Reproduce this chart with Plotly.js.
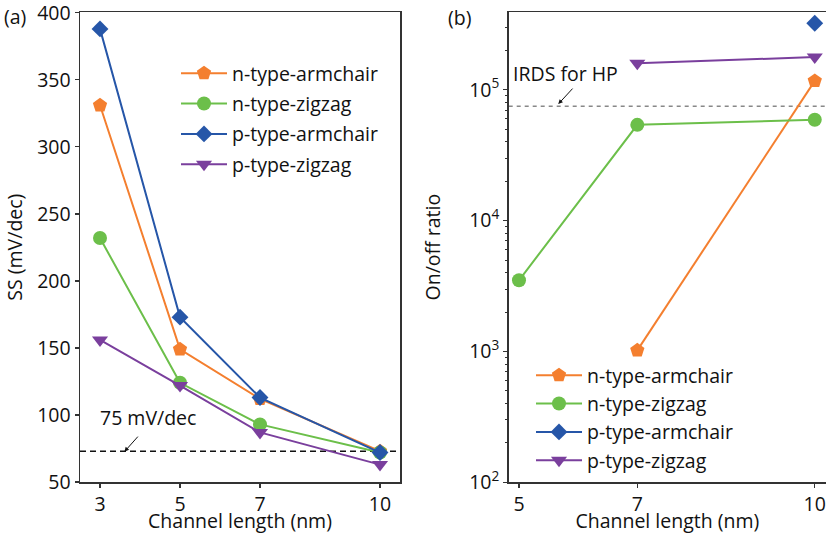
<!DOCTYPE html>
<html>
<head>
<meta charset="utf-8">
<script src="https://cdn.plot.ly/plotly-3.0.1.min.js"></script>
<style>html,body{margin:0;padding:0;background:#fff}#chart{width:826px;height:534px}</style>
</head>
<body>
<div id="chart"></div>
<script>
// ---- data ----
const seriesNames = ['n-type-armchair', 'n-type-zigzag', 'p-type-armchair', 'p-type-zigzag'];
const channelA = [3, 5, 7, 10];
const ssNArm = [331, 149, 112, 73];
const ssNZig = [232, 124, 93, 72];
const ssPArm = [388, 173, 113, 72];
const ssPZig = [156, 122, 87, 63];
const channelB = [5, 7, 10];
const onoffNArm = [null, 1020, 117000];
const onoffNZig = [3500, 54000, 59000];
const onoffPArm = [null, null, 323000];
const onoffPZig = [null, 160000, 178000];
const ssLimit = 73;          // "75 mV/dec" reference line as drawn
const irdsHP = 75000;        // IRDS for HP reference line
const xTicksA = [3, 5, 7, 10];
const xTicksB = [5, 7, 10];
const yTicksA = [50, 100, 150, 200, 250, 300, 350, 400];
const yTicksB = [100, 1000, 10000, 100000];
const yTickTextB = ['10<sup>2</sup>', '10<sup>3</sup>', '10<sup>4</sup>', '10<sup>5</sup>'];
const yMinorB = [200, 300, 400, 500, 600, 700, 800, 900,
                 2000, 3000, 4000, 5000, 6000, 7000, 8000, 9000,
                 20000, 30000, 40000, 50000, 60000, 70000, 80000, 90000,
                 200000, 300000];

// ---- style ----
const colors = ['#F47F2F', '#6CBF4A', '#2656A8', '#7A3F9D'];
const symbols = ['pentagon', 'circle', 'diamond', 'triangle-down'];
const msizes = [15, 14, 13, 14];
const FONT = '"Open Sans", "Noto Sans", sans-serif';
const FS = 19.5;
const AX = '#333';

const valsA = [ssNArm, ssNZig, ssPArm, ssPZig];
const valsB = [onoffNArm, onoffNZig, onoffPArm, onoffPZig];

const traces = [];
valsA.forEach((v, i) => traces.push({
  x: channelA, y: v, type: 'scatter', mode: 'lines+markers', name: seriesNames[i],
  xaxis: 'x', yaxis: 'y', legend: 'legend', legendgroup: 'a' + i,
  line: {color: colors[i], width: 2},
  marker: {symbol: symbols[i], size: msizes[i], color: colors[i]}
}));
valsB.forEach((v, i) => traces.push({
  x: channelB, y: v, type: 'scatter', mode: 'lines+markers', name: seriesNames[i],
  xaxis: 'x2', yaxis: 'y2', legend: 'legend2', legendgroup: 'b' + i,
  connectgaps: false,
  line: {color: colors[i], width: 2},
  marker: {symbol: symbols[i], size: msizes[i], color: colors[i]}
}));

const axBase = {
  showline: true, linecolor: AX, linewidth: 1.5, ticks: 'outside', ticklen: 4,
  tickcolor: AX, tickwidth: 1.2, showgrid: false, zeroline: false,
  ticklabeloverflow: 'allow',
  tickfont: {family: FONT, size: FS, color: '#111'},
};

const yDom = [(534 - 482.3) / 534, (534 - 12) / 534];

const layout = {
  width: 826, height: 534,
  margin: {l: 0, r: 0, t: 0, b: 0},
  paper_bgcolor: '#fff', plot_bgcolor: '#fff',
  font: {family: FONT, size: FS, color: '#111'},
  xaxis: Object.assign({}, axBase, {
    domain: [80 / 826, 400 / 826], range: [2.5, 10.5], mirror: true,
    tickmode: 'array', tickvals: xTicksA, anchor: 'y',
    title: {text: 'Channel length (nm)', font: {family: FONT, size: FS}, standoff: 0}
  }),
  yaxis: Object.assign({}, axBase, {
    domain: yDom, range: [49.8, 400.6], mirror: true, anchor: 'x',
    tickmode: 'array', tickvals: yTicksA,
    title: {text: 'SS (mV/dec)', font: {family: FONT, size: FS}, standoff: 9}
  }),
  xaxis2: Object.assign({}, axBase, {
    domain: [508.7 / 826, 1], range: [4.826, 10.19], mirror: true, anchor: 'y2',
    tickmode: 'array', tickvals: xTicksB,
    title: {text: 'Channel length (nm)', font: {family: FONT, size: FS}, standoff: 0}
  }),
  yaxis2: Object.assign({}, axBase, {
    domain: yDom, type: 'log', range: [2, 5.595], mirror: false, anchor: 'x2',
    tickmode: 'array', tickvals: yTicksB, ticktext: yTickTextB,
    minor: {tickmode: 'array', tickvals: yMinorB, ticks: 'outside', ticklen: 2.5, tickcolor: AX, tickwidth: 1},
    title: {text: 'On/off ratio', font: {family: FONT, size: FS}, standoff: 23}
  }),
  showlegend: true,
  legend: {
    x: 176 / 826, y: 1 - 54 / 534, xanchor: 'left', yanchor: 'top',
    bgcolor: 'rgba(0,0,0,0)', font: {family: FONT, size: FS, color: '#111'},
    traceorder: 'grouped', tracegroupgap: 2, itemwidth: 46
  },
  legend2: {
    x: 531 / 826, y: 1 - 356 / 534, xanchor: 'left', yanchor: 'top',
    bgcolor: 'rgba(0,0,0,0)', font: {family: FONT, size: FS, color: '#111'},
    traceorder: 'grouped', tracegroupgap: 0, itemwidth: 46
  },
  shapes: [
    {type: 'line', xref: 'x domain', yref: 'y', x0: 0, x1: 1, y0: ssLimit, y1: ssLimit,
     line: {color: '#111', width: 1.5, dash: '6px,4px'}, layer: 'below'},
    {type: 'line', xref: 'x2 domain', yref: 'y2', x0: 0, x1: 1, y0: irdsHP, y1: irdsHP,
     line: {color: '#888', width: 1.5, dash: '4px,4px'}, layer: 'below'}
  ],
  annotations: [
    {xref: 'paper', yref: 'paper', x: 2 / 826, y: 1 - 17 / 534, xanchor: 'left', yanchor: 'middle',
     text: '(a)', showarrow: false, font: {family: FONT, size: FS, color: '#111'}},
    {xref: 'paper', yref: 'paper', x: 446 / 826, y: 1 - 18 / 534, xanchor: 'left', yanchor: 'middle',
     text: '(b)', showarrow: false, font: {family: FONT, size: FS, color: '#111'}},
    {xref: 'x', yref: 'y', x: 4.2, y: 98.5, text: '75 mV/dec', showarrow: false,
     font: {family: FONT, size: FS, color: '#111'}},
    {xref: 'x', yref: 'y', x: 3.61, y: 72.6, axref: 'x', ayref: 'y', ax: 3.98, ay: 85,
     text: '', showarrow: true, arrowhead: 2, arrowsize: 0.9, arrowwidth: 1, arrowcolor: '#111', standoff: 0},
    {xref: 'x2', yref: 'y2', x: 5.786, y: 5.122, text: 'IRDS for HP', showarrow: false,
     font: {family: FONT, size: FS, color: '#111'}},
    {xref: 'x2', yref: 'y2', x: 5.664, y: 4.891, axref: 'x2', ayref: 'y2', ax: 5.929, ay: 5.021,
     text: '', showarrow: true, arrowhead: 2, arrowsize: 0.9, arrowwidth: 1, arrowcolor: '#111', standoff: 0}
  ]
};

Plotly.newPlot('chart', traces, layout, {displayModeBar: false, staticPlot: true});
</script>
</body>
</html>
